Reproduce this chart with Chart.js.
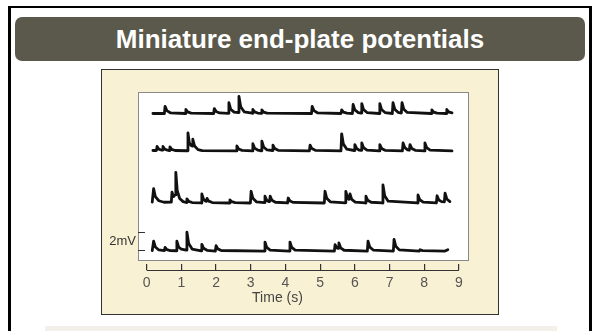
<!DOCTYPE html>
<html>
<head>
<meta charset="utf-8">
<script src="https://cdn.jsdelivr.net/npm/chart.js@4/dist/chart.umd.min.js"></script>
<style>
    html, body { margin: 0; padding: 0; background: #fff; }
    body { width: 592px; height: 331px; position: relative; overflow: hidden; font-family: "Liberation Sans", Arial, sans-serif; }
    .frame { position: absolute; left: 8px; top: 6px; width: 584px; height: 340px; box-sizing: border-box;
        border-top: 2px solid #000; border-left: 3px solid #000; border-right: 3px solid #000; }
    .titleBar { position: absolute; left: 15px; top: 17px; width: 570px; height: 44px; border-radius: 7px;
        background: #5b594c; color: #fff; font-weight: bold; font-size: 26px; line-height: 45px; text-align: center; }
    .panel { position: absolute; left: 101px; top: 69px; width: 398px; height: 246px; box-sizing: border-box;
        border: 1px solid #333; background: #f9f1d3; }
    .plotBox { position: absolute; left: 138px; top: 92px; width: 331px; height: 169px; box-sizing: border-box;
        border: 1px solid #8a8a8a; background: #fff; }
    .band { position: absolute; left: 45px; top: 326px; width: 512px; height: 5px; background: #f3f0e9; }
    canvas { position: absolute; left: 0; top: 0; }
</style>
</head>
<body>
<div class="frame"></div>
<div class="titleBar">Miniature end-plate potentials</div>
<div class="panel"></div>
<div class="plotBox"></div>
<div class="band"></div>
<canvas id="mepp" width="592" height="331"></canvas>

<script>
    // time (s), potential above the trace baseline (mV)
    const trace1 = [[0.18,0],[0.51,0],[0.53,0.8],[0.58,0.32],[0.68,0.08],[1.11,0],[1.13,0.45],[1.18,0.18],[1.28,0.05],
        [1.93,0],[1.95,0.55],[2.0,0.22],[2.1,0.06],[2.35,0.02],[2.37,1.2],[2.42,0.48],[2.52,0.15],[2.64,0.1],[2.66,1.9],
        [2.71,0.76],[2.81,0.19],[3.04,0.03],[3.06,0.45],[3.11,0.18],[3.2,0.05],[3.3,0.02],[3.32,0.4],[3.37,0.16],[3.47,0.04],
        [4.75,0],[4.77,0.8],[4.82,0.32],[4.92,0.08],[5.6,0],[5.62,0.4],[5.67,0.16],[5.77,0.04],[5.93,0],[5.95,1.0],[6.0,0.4],
        [6.1,0.1],[6.18,0.05],[6.2,1.1],[6.25,0.44],[6.35,0.11],[6.7,0],[6.72,1.1],[6.77,0.44],[6.87,0.11],[7.08,0],[7.1,1.2],
        [7.15,0.48],[7.25,0.12],[7.34,0.05],[7.36,1.2],[7.41,0.48],[7.51,0.12],[8.2,0],[8.22,0.4],[8.27,0.16],[8.37,0.04],
        [8.63,0],[8.65,0.45],[8.7,0.18],[8.8,0.08]];
    const trace2 = [[0.18,0.05],[0.28,0.05],[0.3,0.5],[0.35,0.2],[0.42,0.1],[0.45,0.1],[0.47,0.5],[0.52,0.2],[0.6,0.08],
        [0.65,0.05],[0.67,0.45],[0.72,0.18],[0.82,0.05],[1.17,0.02],[1.19,2.0],[1.23,0.9],[1.28,0.6],[1.31,0.55],[1.33,1.3],
        [1.38,0.55],[1.48,0.15],[1.6,0.04],[2.58,0],[2.6,0.55],[2.65,0.22],[2.75,0.06],[3.04,0],[3.06,0.8],[3.11,0.32],
        [3.21,0.08],[3.3,0.02],[3.32,1.1],[3.37,0.44],[3.47,0.11],[3.62,0.05],[3.64,0.65],[3.69,0.26],[3.79,0.07],[4.69,0],
        [4.71,0.65],[4.76,0.26],[4.86,0.07],[5.6,0],[5.62,1.9],[5.67,0.76],[5.77,0.19],[5.98,0.05],[6.0,0.7],[6.05,0.28],
        [6.12,0.1],[6.18,0.08],[6.2,0.9],[6.25,0.36],[6.35,0.09],[6.7,0],[6.72,0.7],[6.77,0.28],[6.87,0.07],[7.37,0],
        [7.39,0.9],[7.44,0.36],[7.52,0.12],[7.57,0.08],[7.59,0.7],[7.64,0.28],[7.74,0.07],[8.0,0],[8.02,0.9],[8.07,0.36],
        [8.17,0.09],[8.8,0]];
    const trace3 = [[0.16,0.1],[0.2,1.6],[0.25,0.7],[0.35,0.25],[0.5,0.08],[0.71,0.1],[0.73,1.2],[0.77,0.7],[0.82,0.9],
        [0.84,3.4],[0.88,1.4],[0.95,0.5],[1.05,0.15],[1.14,0.05],[1.16,0.45],[1.21,0.18],[1.31,0.05],[1.57,0],[1.59,1.0],
        [1.64,0.4],[1.7,0.2],[1.72,0.18],[1.74,0.5],[1.79,0.2],[1.89,0.05],[2.38,0],[2.4,0.35],[2.45,0.14],[2.55,0.04],
        [2.99,0],[3.01,1.3],[3.06,0.52],[3.16,0.13],[3.39,0.05],[3.41,0.75],[3.46,0.3],[3.52,0.15],[3.54,0.15],[3.56,0.75],
        [3.61,0.3],[3.71,0.08],[4.06,0],[4.08,0.55],[4.13,0.22],[4.23,0.06],[5.12,0],[5.14,1.3],[5.19,0.52],[5.29,0.13],
        [5.72,0.02],[5.74,1.3],[5.79,0.55],[5.83,0.4],[5.86,1.0],[5.91,0.4],[6.01,0.1],[6.3,0],[6.32,0.75],[6.37,0.3],
        [6.47,0.08],[6.79,0],[6.81,2.0],[6.86,0.8],[6.96,0.2],[7.8,0],[7.82,0.9],[7.87,0.36],[7.97,0.09],[8.35,0],
        [8.37,0.8],[8.42,0.32],[8.5,0.15],[8.58,0.12],[8.6,1.1],[8.65,0.44],[8.74,0.15]];
    const trace4 = [[0.16,0.05],[0.2,1.1],[0.25,0.45],[0.35,0.12],[0.51,0.05],[0.53,0.4],[0.58,0.16],[0.68,0.05],
        [0.85,0.03],[0.87,1.1],[0.92,0.45],[1.0,0.2],[1.14,0.1],[1.16,2.1],[1.21,0.85],[1.31,0.22],[1.57,0.02],[1.59,0.75],
        [1.64,0.3],[1.74,0.08],[1.98,0],[2.0,0.6],[2.05,0.24],[2.15,0.06],[3.39,0],[3.41,1.0],[3.46,0.4],[3.56,0.1],
        [4.11,0],[4.13,1.0],[4.18,0.4],[4.28,0.1],[5.41,0],[5.43,0.7],[5.48,0.35],[5.52,0.3],[5.54,0.9],[5.59,0.36],
        [5.69,0.09],[6.36,0],[6.38,1.1],[6.43,0.44],[6.53,0.11],[7.11,0],[7.13,1.3],[7.18,0.52],[7.28,0.13],[7.86,0],
        [7.88,0.15],[7.95,0.05],[8.6,0],[8.68,0.15]];

    const traces = [trace1, trace2, trace3, trace4];
    const baselines = [16.72, 12.56, 6.78, 1.44];   // vertical offset of each sweep, mV
    const timeTicks = [0, 1, 2, 3, 4, 5, 6, 7, 8, 9];
    const scaleBar = [1.56, 3.56];                   // 2 mV calibration bar
    const axisTitle = 'Time (s)';
    const axisTitleAt = 3.77;                        // the title sits a bit left of the 4 s tick

    const sweepDecor = {
        id: 'sweep-decor',
        afterDraw(chart) {
            const {ctx} = chart;
            const x = chart.scales.x;
            const y = chart.scales.y;
            ctx.save();
            ctx.strokeStyle = '#333';
            ctx.lineWidth = 1.2;
            // axis line only between first and last tick
            ctx.beginPath();
            ctx.moveTo(x.getPixelForValue(timeTicks[0]), 270.5);
            ctx.lineTo(x.getPixelForValue(timeTicks[timeTicks.length - 1]), 270.5);
            ctx.stroke();

            const left = chart.chartArea.left;
            ctx.beginPath();
            scaleBar.forEach(v => {
                const py = Math.round(y.getPixelForValue(v)) + 0.5;
                ctx.moveTo(left, py);
                ctx.lineTo(left + 7, py);
            });
            ctx.stroke();
            ctx.fillStyle = '#333';
            ctx.font = '13px "Liberation Sans", Arial, sans-serif';
            ctx.textAlign = 'right';
            ctx.textBaseline = 'middle';
            ctx.fillText('2mV', left - 2, (y.getPixelForValue(scaleBar[0]) + y.getPixelForValue(scaleBar[1])) / 2);

            ctx.fillStyle = '#444';
            ctx.font = '14px "Liberation Sans", Arial, sans-serif';
            ctx.textAlign = 'center';
            ctx.fillText(axisTitle, x.getPixelForValue(axisTitleAt), 298);
            ctx.restore();
        }
    };

    new Chart(document.getElementById('mepp'), {
        type: 'line',
        data: {
            datasets: traces.map((tr, i) => ({
                data: tr.map(p => ({x: p[0], y: p[1] + baselines[i]})),
                borderColor: '#111',
                borderWidth: 2.8,
                borderJoinStyle: 'round',
                borderCapStyle: 'round',
                pointRadius: 0,
                tension: 0,
                fill: false,
            }))
        },
        options: {
            responsive: false,
            devicePixelRatio: 1,
            animation: false,
            layout: {padding: {left: 138, right: 123, top: 92, bottom: 0}},
            plugins: {legend: {display: false}, tooltip: {enabled: false}},
            scales: {
                x: {
                    type: 'linear',
                    min: -0.25,
                    max: 9.29,
                    afterBuildTicks(scale) {
                        scale.ticks = timeTicks.map(v => ({value: v}));
                    },
                    afterFit(scale) {
                        scale.height = 67;
                    },
                    border: {display: false},
                    grid: {drawOnChartArea: false, drawTicks: true, tickLength: 6, color: '#333', lineWidth: 1.2},
                    ticks: {
                        color: '#555',
                        padding: 5,
                        maxRotation: 0,
                        font: {size: 14, family: '"Liberation Sans", Arial, sans-serif'},
                        callback: v => String(v),
                    },
                },
                y: {
                    type: 'linear',
                    display: false,
                    min: 0,
                    max: 19.11,
                },
            },
        },
        plugins: [sweepDecor],
    });
</script>
</body>
</html>
